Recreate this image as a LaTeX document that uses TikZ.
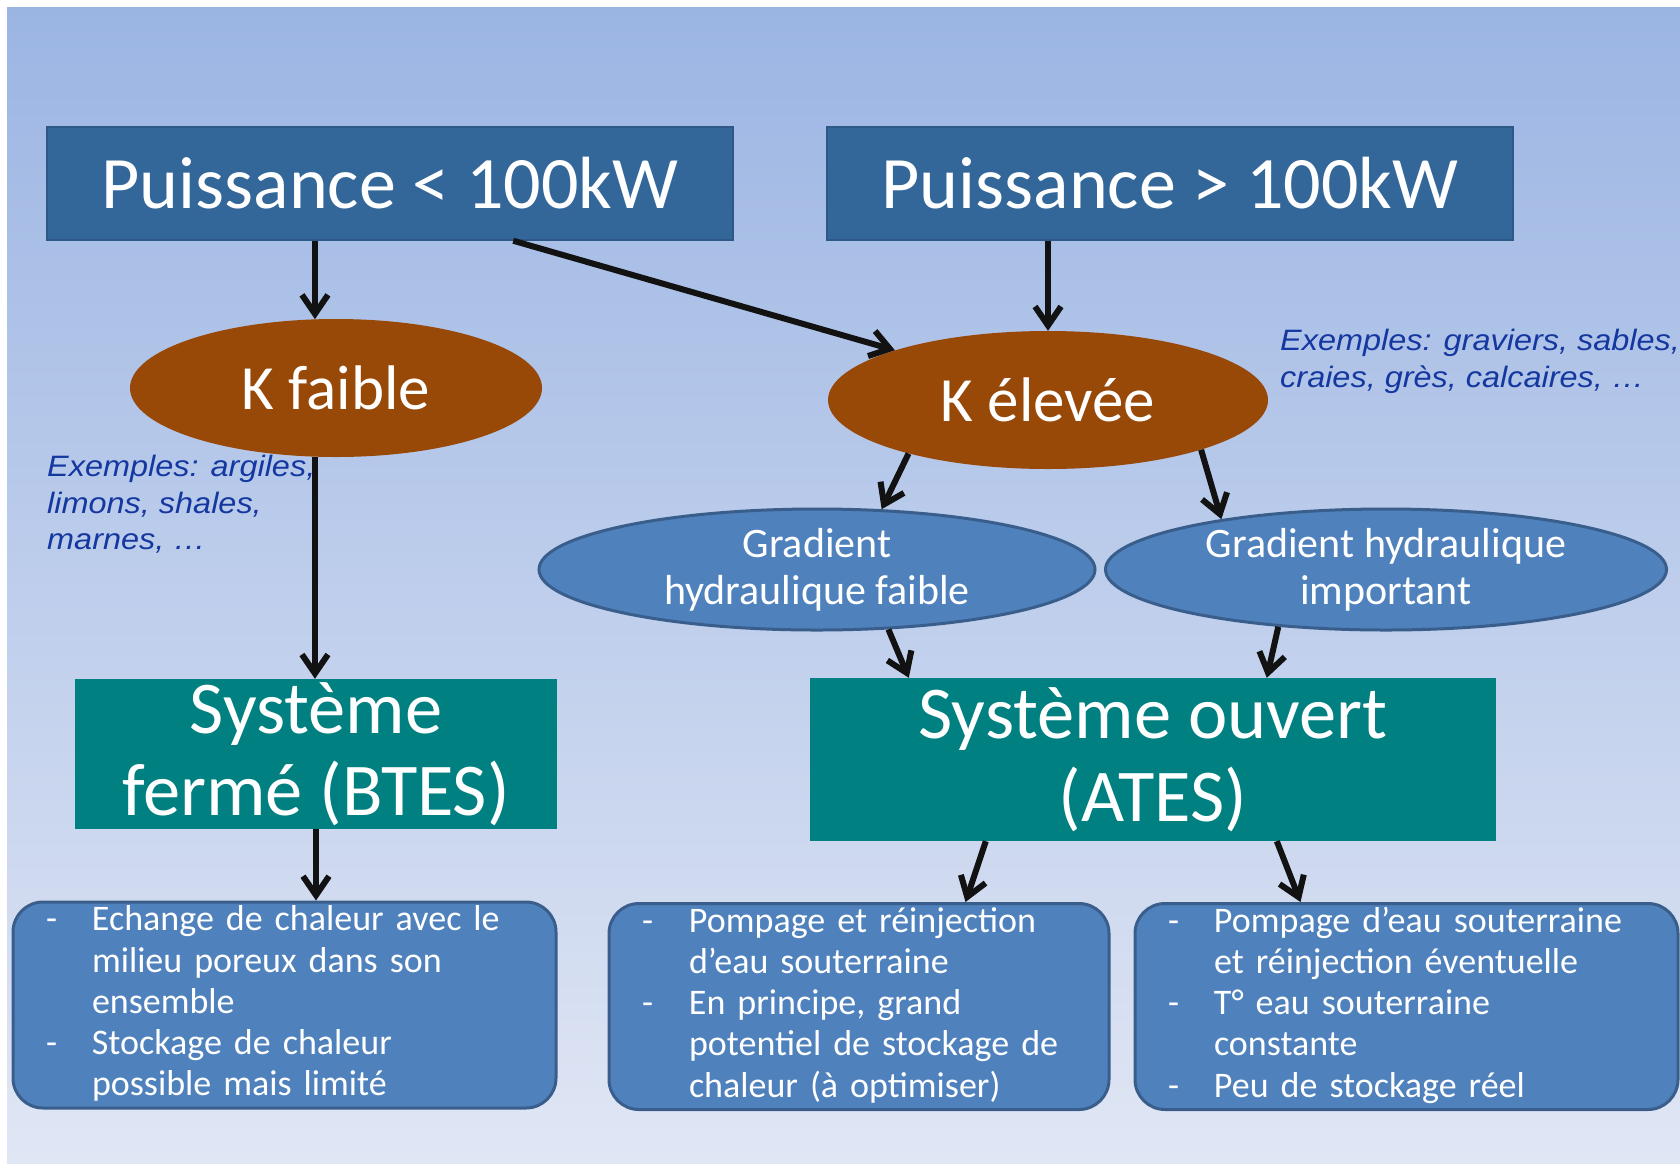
\documentclass[tikz,border=0pt]{standalone}
\usepackage{fontspec}
\setmainfont{Carlito}
\newfontfamily\exfont[FakeStretch=1.1]{Liberation Sans}
\usetikzlibrary{arrows.meta,shapes.geometric,positioning}

\definecolor{fondhaut}{RGB}{155,181,227}
\definecolor{fondbas}{RGB}{224,230,244}
\definecolor{puisfill}{RGB}{52,103,153}
\definecolor{puisdraw}{RGB}{46,88,135}
\definecolor{brun}{RGB}{152,72,7}
\definecolor{sarcelle}{RGB}{0,128,128}
\definecolor{bleuacc}{RGB}{79,129,189}
\definecolor{bleubord}{RGB}{58,94,140}
\definecolor{bleuex}{RGB}{20,56,160}

\begin{document}
\begin{tikzpicture}[->,>={Straight Barb[length=19pt,width=26pt]},x=1pt,y=-1pt]
  \tikzstyle{every edge}=[draw,line width=6pt,color=black!93]
  \tikzstyle{puissance}=[rectangle,fill=puisfill,draw=puisdraw,line width=1.5pt,text=white,minimum width=686pt,minimum height=113pt,inner sep=0pt,font=\fontsize{74}{83}\selectfont]
  \tikzstyle{sol}=[ellipse,fill=brun,text=white,minimum height=138pt,inner sep=0pt,font=\fontsize{63}{72}\selectfont]
  \tikzstyle{gradient}=[ellipse,fill=bleuacc,draw=bleubord,line width=3pt,text=white,minimum height=121pt,inner sep=0pt,align=center,font=\fontsize{42}{47}\selectfont]
  \tikzstyle{systeme}=[rectangle,fill=sarcelle,text=white,inner sep=0pt,align=center,font=\fontsize{74.5}{82.5}\selectfont]
  \tikzstyle{detail}=[rectangle,rounded corners=30pt,fill=bleuacc,draw=bleubord,line width=3pt,text=white,minimum height=203pt,inner xsep=33pt,inner ysep=0pt,align=left,font=\fontsize{36}{41.2}\selectfont]
  \tikzstyle{exemple}=[anchor=north west,inner sep=0pt,align=left,text=bleuex,font=\exfont\itshape\fontsize{29.5}{36.5}\selectfont]

\useasboundingbox (0,0) rectangle (1680,1163);
\fill[-,white] (0,0) rectangle (1680,1163);
\shade[-,top color=fondhaut,bottom color=fondbas] (7,7) rectangle (1680,1163);

\node[puissance] (p1) at (390,183.5) {Puissance < 100kW};
\node[puissance] (p2) at (1170,183.5) {Puissance > 100kW};
\node[sol,minimum width=412pt] (kf) at (336,388) {K faible};
\node[sol,minimum width=440pt] (ke) at (1048,400) {K élevée};
\node[gradient,minimum width=556pt] (gf) at (817,569.5) {Gradient\\hydraulique faible};
\node[gradient,minimum width=561pt] (gi) at (1386,569.5) {Gradient hydraulique\\important};
\node[systeme,minimum width=482pt,minimum height=150pt] (sf) at (316,754) {Système\\fermé (BTES)};
\node[systeme,minimum width=686pt,minimum height=163pt] (so) at (1153,759.5) {Système ouvert\\(ATES)};

\node[detail,text width=477pt] (b1) at (284.5,1005) {%
  \begin{tabular}{@{}p{46pt}@{}l@{}}
  - & Echange de chaleur avec le\\
    & milieu poreux dans son\\
    & ensemble\\
  - & Stockage de chaleur\\
    & possible mais limité
  \end{tabular}};
\node[detail,text width=434pt] (b2) at (859,1006.5) {%
  \begin{tabular}{@{}p{47pt}@{}l@{}}
  - & Pompage et réinjection\\
    & d’eau souterraine\\
  - & En principe, grand\\
    & potentiel de stockage de\\
    & chaleur (à optimiser)
  \end{tabular}};
\node[detail,text width=477pt] (b3) at (1406.5,1006.5) {%
  \begin{tabular}{@{}p{46pt}@{}l@{}}
  - & Pompage d’eau souterraine\\
    & et réinjection éventuelle\\
  - & T° eau souterraine\\
    & constante\\
  - & Peu de stockage réel
  \end{tabular}};

\node[exemple] (exkf) at (47,455) {Exemples: argiles,\\limons, shales,\\marnes, …};
\node[exemple] (exke) at (1280,329) {Exemples: graviers, sables,\\craies, grès, calcaires, …};

\path
(p1.south -| kf.107) edge (kf.107)
([xshift=467pt]p1.south west) edge (ke.162)
(p2.south -| ke.north) edge (ke.north)
(kf.253) edge (kf.253 |- sf.north)
(ke.201) edge (gf.43)
(ke.-18) edge (gi.163)
(gf.-40) edge ([xshift=99pt]so.north west)
(gi.208) edge ([xshift=457pt]so.north west)
(sf.south) edge (sf.south |- b1.north)
([xshift=176pt]so.south west) edge ([xshift=358pt]b2.north west)
([xshift=467pt]so.south west) edge ([xshift=167pt]b3.north west);
\end{tikzpicture}
\end{document}
